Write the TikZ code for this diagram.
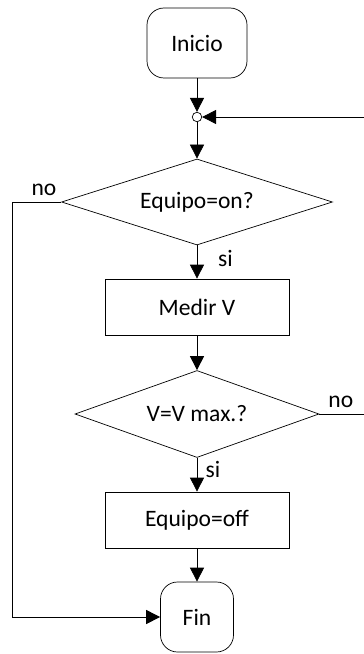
\documentclass[tikz,border=0pt]{standalone}
\usepackage{fontspec}
\setmainfont{Carlito}
\usetikzlibrary{shapes.geometric, positioning}
\usetikzlibrary{arrows.meta}
\tikzset{>={Triangle[length=0.28cm,width=0.28cm]}, % filled arrow heads
line width=1.3pt,
every node/.style={font=\fontsize{13.4}{16}\selectfont},
terminal/.style={draw, rounded corners=0.34cm, minimum height=1.4cm, inner sep=0pt}, % Inicio / Fin
process/.style={draw, minimum width=3.68cm, minimum height=1.12cm, inner sep=0pt},
decision/.style={draw, diamond, aspect=2, inner sep=0pt},
joint/.style={draw, circle, fill=white, minimum size=0.19cm, inner sep=0pt},
}

\begin{document}
\begin{tikzpicture}
\useasboundingbox (0,0) rectangle (7.28,-13.08);

\node[terminal, minimum width=2cm] (inicio) at (3.94,-0.86) {Inicio};
\node[joint, below of=inicio, node distance=1.48cm] (join) {};
\node[decision, minimum width=5.42cm, minimum height=1.72cm, below of=join, node distance=1.70cm] (dec1) {Equipo=on?};
\node[process, below of=dec1, node distance=2.10cm] (medir) {Medir V};
\node[decision, minimum width=4.88cm, minimum height=1.74cm, below of=medir, node distance=2.14cm] (dec2) {V=V max.?};
\node[process, below of=dec2, node distance=2.12cm] (off) {Equipo=off};
\node[terminal, minimum width=1.46cm, below of=off, node distance=1.94cm] (fin) {Fin};

% loose ends at the right border
\coordinate (retin) at ([xshift=3.34cm]join.center);
\coordinate (retout) at ([xshift=3.34cm]dec2.center);

\draw[->] (inicio) -- (join);
\draw[->] (retin) -- (join);
\draw[->] (join) -- (dec1);
\draw[->] (dec1) -- node[right, pos=0.4, xshift=0.3cm]{si} (medir);
\draw[->] (medir) -- (dec2);
\draw[->] (dec2) -- node[right, pos=0.35, xshift=0.05cm]{si} (off);
\draw[->] (off) -- (fin);
\draw[->] (dec1.west) -- node[above, pos=0.35]{no} ++(-0.98,0) |- (fin.west);
\draw (dec2.east) -- node[above, pos=0.48]{no} (retout);

\end{tikzpicture}
\end{document}
